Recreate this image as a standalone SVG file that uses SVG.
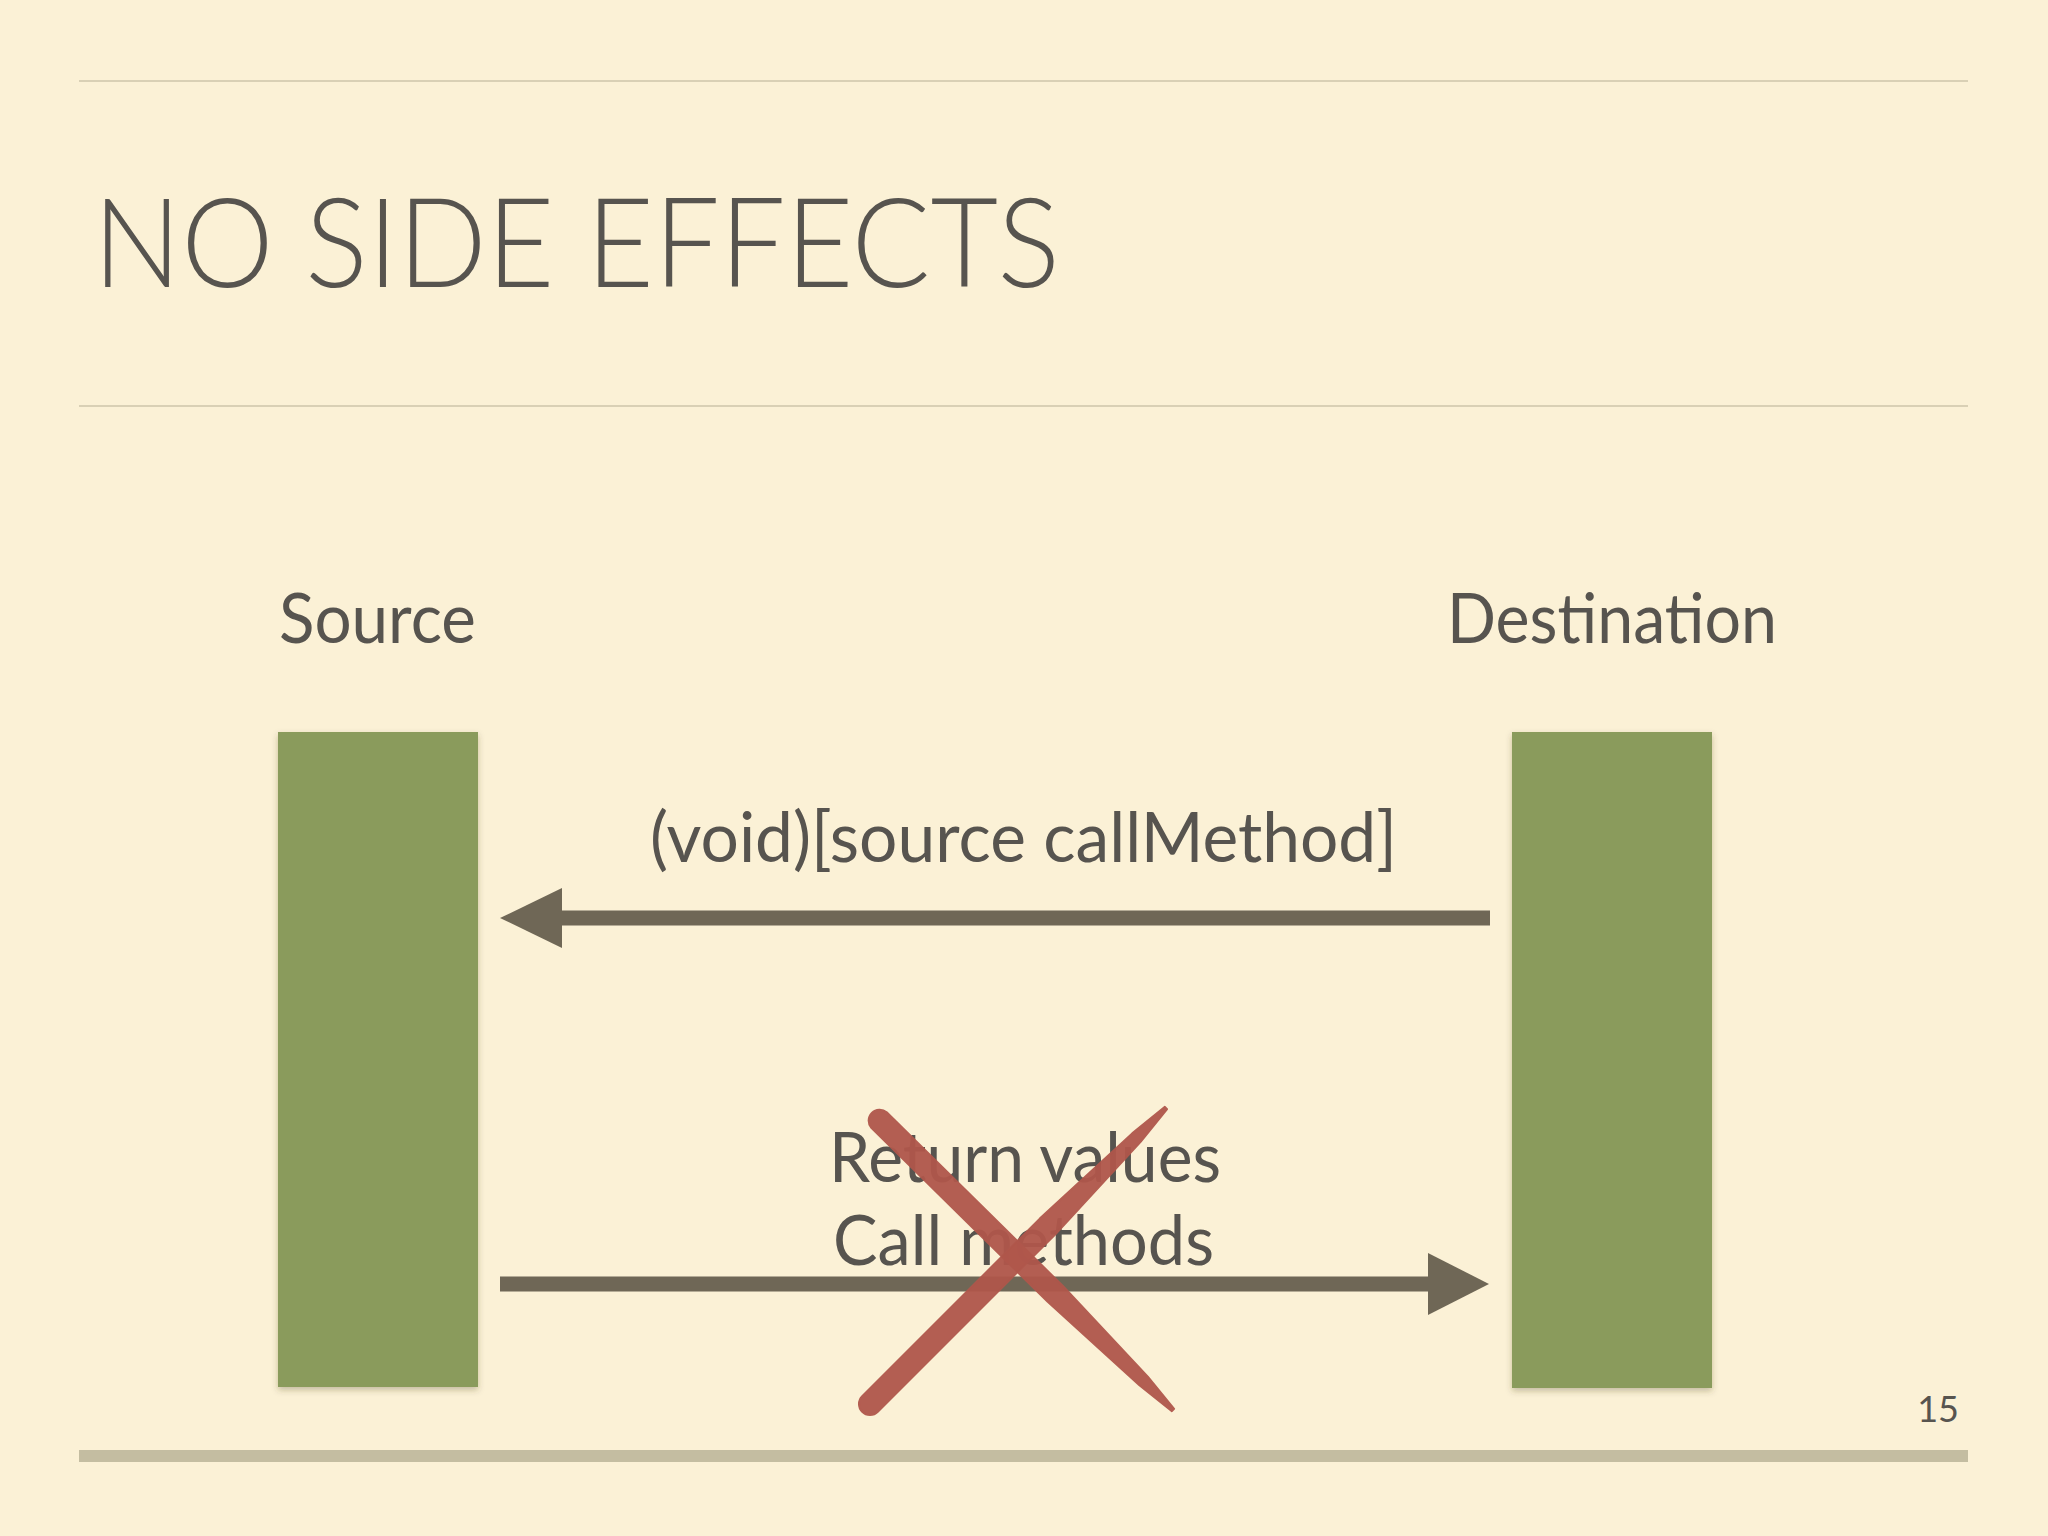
<svg xmlns="http://www.w3.org/2000/svg" width="2048" height="1536" viewBox="0 0 2048 1536">
<defs>
<style>
.bg{fill:#fbf1d6}
.rule{stroke:#d9d0b5;stroke-width:2}
.txt{font-family:Lato,"Open Sans","Liberation Sans",sans-serif;fill:#57544f}
.bar{fill:#8a9b5c;filter:url(#sh)}
.conn{stroke:#6f6756;stroke-width:15;fill:none}
.head{fill:#6f6756}
.cross{fill:#b0574b;stroke:#b0574b;stroke-width:2;stroke-linejoin:round;opacity:0.95}
</style>
<filter id="sh" x="-10%" y="-10%" width="120%" height="120%">
<feDropShadow dx="0" dy="3" stdDeviation="3" flood-color="#4a3f20" flood-opacity="0.3"/>
</filter>
</defs>
<rect class="bg" x="0" y="0" width="2048" height="1536"/>
<line class="rule" x1="79" y1="81" x2="1968" y2="81"/>
<line class="rule" x1="79" y1="406" x2="1968" y2="406"/>
<rect x="79" y="1450" width="1889" height="12" fill="#c4bda1"/>
<text class="txt" x="93" y="287" font-size="125" font-weight="300" textLength="967" lengthAdjust="spacingAndGlyphs">NO SIDE EFFECTS</text>
<text class="txt" x="1959" y="1422" font-size="36" text-anchor="end">15</text>

<g id="source">
<rect class="bar" x="278" y="732" width="200" height="655"/>
<text class="txt" x="279" y="643" font-size="70" textLength="197" lengthAdjust="spacingAndGlyphs">Source</text>
</g>
<g id="destination">
<rect class="bar" x="1512" y="732" width="200" height="656"/>
<text class="txt" x="1447" y="643" font-size="70" textLength="330" lengthAdjust="spacingAndGlyphs">Destination</text>
</g>

<g id="connectors">
<line class="conn" x1="1490" y1="918" x2="560" y2="918"/>
<polygon class="head" points="500,918 562,888 562,948"/>
<text class="txt" x="650" y="862" font-size="70" textLength="747" lengthAdjust="spacingAndGlyphs">(void)[source callMethod]</text>
<line class="conn" x1="500" y1="1284" x2="1430" y2="1284"/>
<polygon class="head" points="1489,1284 1428,1253 1428,1315"/>
<text class="txt" x="829" y="1182" font-size="70" textLength="392" lengthAdjust="spacingAndGlyphs">Return values</text>
<text class="txt" x="833" y="1265" font-size="70" textLength="381" lengthAdjust="spacingAndGlyphs">Call methods</text>
</g>

<g id="cross">
<path class="cross" d="M871.3,1127.8 L1047.7,1301.8 L1139.4,1385.3 L1171.9,1411.1 L1174.1,1408.9 L1147.8,1376.7 L1063.1,1286.2 L886.7,1112.2 A11,11 0 0 0 871.3,1127.8 Z"/>
<path class="cross" d="M1164.9,1106.9 L1132.2,1133.4 L1039.8,1218.6 L862.2,1396.2 A11,11 0 0 0 877.8,1411.8 L1055.4,1234.2 L1140.6,1141.8 L1167.1,1109.1 Z"/>
</g>
</svg>
